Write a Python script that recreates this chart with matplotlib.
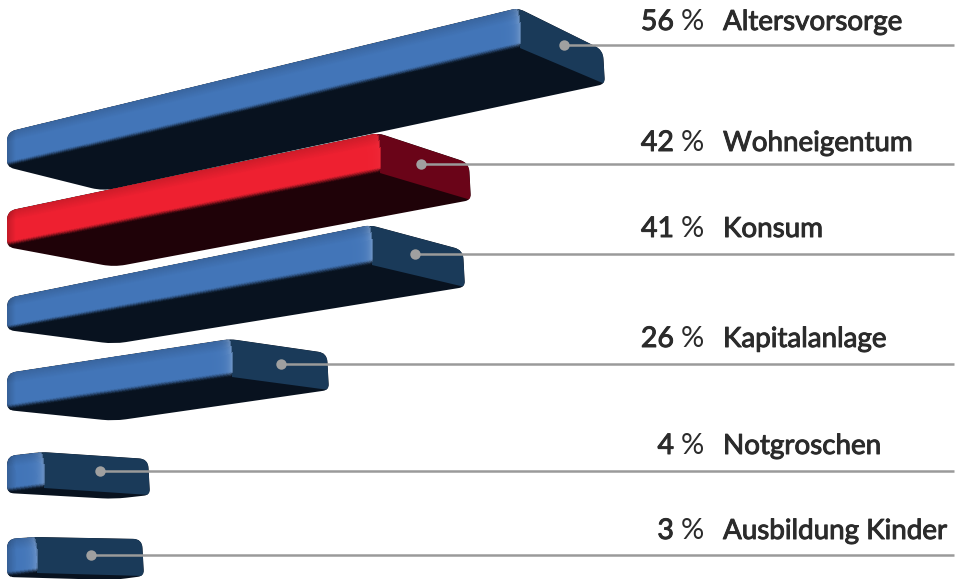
import numpy as np
import matplotlib
matplotlib.use("Agg")
import matplotlib.pyplot as plt
import matplotlib.patheffects as pe
from matplotlib.path import Path
from matplotlib.patches import PathPatch
from matplotlib.colors import to_rgb

# data
categories = ["Altersvorsorge", "Wohneigentum", "Konsum", "Kapitalanlage", "Notgroschen", "Ausbildung Kinder"]
values = [56, 42, 41, 26, 4, 3]
highlight = ["Wohneigentum"]

# layout per row (pixels of the picture)
W, H = 963, 579
PX_PER_PCT = 8.85
X0 = 7
row_stretch = [1.031, 0.998, 1.0004, 0.969, 0.989, 1.055]
row_top = [132, 211, 298, 373, 456, 539]
row_rise = [2.214, 1.857, 1.78, 1.308, 1.0, 0.667]
row_front_h = [35, 36, 32, 37, 37, 38]
row_far_h = [40, 40, 40, 38, 36, 36]
row_side_dx = [85, 91, 93, 97, 106, 107]
row_side_dy = [42, 30, 25, 14, 7, 2]
row_side_h = [34, 37, 37, 37, 36, 37]
row_under_dx = [96, 107, 107, 107, 107, 107]
row_under_dy = [24, 20, 14, 11, 6, 3]
row_line_y = [45, 164, 254, 364, 471, 555]
row_dot_dx = [46, 43, 45, 51, 58, 56]
row_text_y = [22, 143, 229, 339, 446, 531]

NUM_X = 674
PCT_X = 681
LABEL_X = 723
LINE_END = 954

BLUE = dict(band="#4275b8", side="#1a3a59", under="#08121f")
RED = dict(band="#ee2030", side="#6a0418", under="#1f0208")

fig = plt.figure(figsize=(W / 100, H / 100), dpi=100, facecolor="white")
ax = fig.add_axes([0, 0, 1, 1])
ax.set_xlim(-X0 / PX_PER_PCT, (W - X0) / PX_PER_PCT)   # x axis in percent
ax.set_ylim(H, 0)
ax.axis("off")

heavier = [pe.withStroke(linewidth=0.7, foreground="#2b2b2b")]


def px(dx):
    return dx / PX_PER_PCT


def rounded(points, radii):
    """Closed path through points, corners rounded (radii in px)."""
    n = len(points)
    verts, codes = [], []
    for i in range(n):
        p = np.array(points[i], float)
        a = np.array(points[i - 1], float)
        b = np.array(points[(i + 1) % n], float)
        sa = np.array([(a[0] - p[0]) * PX_PER_PCT, a[1] - p[1]])
        sb = np.array([(b[0] - p[0]) * PX_PER_PCT, b[1] - p[1]])
        r = radii[i]
        ua = sa / np.hypot(*sa) * min(r, np.hypot(*sa) / 2)
        ub = sb / np.hypot(*sb) * min(r, np.hypot(*sb) / 2)
        start = p + [ua[0] / PX_PER_PCT, ua[1]]
        end = p + [ub[0] / PX_PER_PCT, ub[1]]
        verts += [start, p, end]
        codes += [Path.MOVETO if i == 0 else Path.LINETO, Path.CURVE3, Path.CURVE3]
    verts.append(verts[0])
    codes.append(Path.CLOSEPOLY)
    return Path(verts, codes)


def quad_mesh(A, C, D, B, colors, bulge=0.0):
    """Bilinear mesh A-C top edge, B-D bottom edge; far edge bows by bulge percent."""
    nv, nu = colors.shape[:2]
    u = np.linspace(0, 1, nu + 1)
    v = np.linspace(0, 1, nv + 1)
    U, V = np.meshgrid(u, v)
    A, B, C, D = map(lambda q: np.array(q, float), (A, B, C, D))
    X = (1 - V) * ((1 - U) * A[0] + U * C[0]) + V * ((1 - U) * B[0] + U * D[0])
    Y = (1 - V) * ((1 - U) * A[1] + U * C[1]) + V * ((1 - U) * B[1] + U * D[1])
    X = X + bulge * U * 4 * V * (1 - V)
    return ax.pcolormesh(X, Y, colors, shading="flat", antialiased=False, zorder=3)


for i, (name, val) in enumerate(zip(categories, values)):
    pal = RED if name in highlight else BLUE
    z = 2 + i
    far = val * row_stretch[i]
    A = (0, row_top[i])
    B = (0, row_top[i] + row_front_h[i])
    C = (far, row_top[i] - val * row_rise[i])
    D = (far + px(2), C[1] + row_far_h[i])
    E = (far + px(row_side_dx[i]), C[1] + row_side_dy[i])
    F = (E[0] + px(2), E[1] + row_side_h[i])
    G = (px(row_under_dx[i]), B[1] + row_under_dy[i])

    sil = rounded([A, C, E, F, G, B], [9, 7, 9, 6, 12, 7])
    clip = PathPatch(sil, transform=ax.transData, fc=pal["under"], ec="none", zorder=z)
    ax.add_patch(clip)

    # side (end) face
    side = PathPatch(Path([C, E, F, D, C], closed=True), fc=pal["side"], ec="none", zorder=z + 0.1)
    ax.add_patch(side)
    side.set_clip_path(clip)

    # long lit band
    base = np.array(to_rgb(pal["band"]))
    under = np.array(to_rgb(pal["under"]))
    band_px = far * PX_PER_PCT
    nu, nv = int(max(40, band_px)), 70
    us = (np.arange(nu) + 0.5) / nu
    vs = (np.arange(nv) + 0.5) / nv
    UU, VV = np.meshgrid(us, vs)
    dist_end = (1 - UU) * band_px
    dist_start = UU * band_px
    shade = 0.86 + 0.14 * np.clip(VV / 0.3, 0, 1)
    shade = shade * (0.82 + 0.18 * np.clip(dist_start / 9, 0, 1))
    rgb = base[None, None, :] * shade[..., None]
    glow = 0.28 * np.exp(-(dist_end / 4.5)) * (1 if pal is BLUE else 0.15)
    rgb = rgb + (1 - rgb) * glow[..., None]
    edge = np.clip(dist_end / 1.5, 0, 1)[..., None]
    rgb = rgb * edge + np.array(to_rgb(pal["side"])) * (1 - edge) * 0.6 + rgb * (1 - edge) * 0.4
    fade = np.clip((VV - 0.84) / 0.16, 0, 1)[..., None]
    fade = fade * fade * (3 - 2 * fade)
    rgb = rgb * (1 - fade) + under * fade
    mesh = quad_mesh(A, C, D, B, np.clip(rgb, 0, 1), bulge=px(2))
    mesh.set_zorder(z + 0.2)
    mesh.set_clip_path(clip)

    # leader line, dot, labels
    dot_x = far + px(row_dot_dx[i])
    ax.plot([dot_x, px(LINE_END - X0)], [row_line_y[i]] * 2, color="#9a9a9a", lw=1.8,
            solid_capstyle="butt", zorder=20)
    ax.plot([dot_x], [row_line_y[i]], "o", color="#a0a0a0", ms=7.5, mew=0, zorder=21)
    ax.text(px(NUM_X - X0), row_text_y[i], f"{val}", ha="right", va="center",
            family="Lato", weight="normal", fontsize=20.5, color="#2b2b2b", zorder=22,
            path_effects=heavier)
    ax.text(px(PCT_X - X0), row_text_y[i], "%", ha="left", va="center",
            family="Lato", weight="normal", fontsize=21, color="#2b2b2b", zorder=22)
    ax.text(px(LABEL_X - X0), row_text_y[i], name, ha="left", va="center",
            family="Lato", weight="normal", fontsize=20, color="#2b2b2b", zorder=22,
            path_effects=heavier)

fig.savefig("out.png", dpi=100)
